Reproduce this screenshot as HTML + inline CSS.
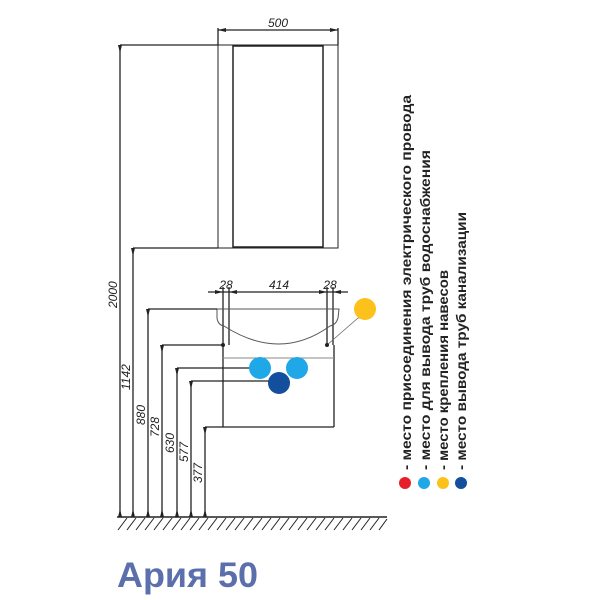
<!DOCTYPE html>
<html><head><meta charset="utf-8"><style>body{margin:0;background:#fff}</style></head><body>
<svg width="600" height="600" xmlns="http://www.w3.org/2000/svg" style="display:block">
<g stroke="#222" stroke-width="1.3" fill="none">
<rect x="218" y="45" width="120" height="203" stroke-width="1"/>
<rect x="233" y="46" width="90" height="201" stroke-width="1.5"/>
<line x1="218" y1="30" x2="338" y2="30"/>
<line x1="218" y1="28" x2="218" y2="45"/><line x1="338" y1="28" x2="338" y2="45"/>
<line x1="120" y1="45" x2="218" y2="45"/>
<line x1="120" y1="45" x2="120" y2="517"/>
<line x1="133" y1="248" x2="218" y2="248"/>
<line x1="133" y1="248" x2="133" y2="517"/>
<line x1="208" y1="292" x2="348" y2="292"/>
<line x1="223" y1="287" x2="223" y2="345"/><line x1="229" y1="287" x2="229" y2="345"/>
<line x1="327" y1="287" x2="327" y2="345"/><line x1="333" y1="287" x2="333" y2="345"/>
<path d="M217,309 L339,309 L338,318 Q336,325 330,326 Q280,362 224,326 Q218,325 217,318 Z" stroke-width="1" stroke="#555"/>
<line x1="223" y1="345" x2="223" y2="427"/>
<line x1="334" y1="345" x2="334" y2="427"/>
<line x1="223" y1="358" x2="334" y2="358" stroke="#888" stroke-width="1"/>
<line x1="205" y1="427" x2="334" y2="427"/>
<line x1="148" y1="309" x2="217" y2="309"/><line x1="148" y1="309" x2="148" y2="517"/>
<line x1="162" y1="345" x2="223" y2="345"/><line x1="162" y1="345" x2="162" y2="517"/>
<line x1="177" y1="368" x2="250" y2="368"/><line x1="177" y1="368" x2="177" y2="517"/>
<line x1="191" y1="381" x2="270" y2="381"/><line x1="191" y1="381" x2="191" y2="517"/>
<line x1="205" y1="427" x2="205" y2="517"/>
<line x1="327" y1="345" x2="358" y2="318" stroke-width="0.8" stroke="#666"/>
<line x1="358" y1="318" x2="370" y2="318" stroke-width="0.8" stroke="#666"/>
<line x1="117" y1="517" x2="387" y2="517" stroke-width="1.6"/>
</g>
<g fill="#222">
<circle cx="223" cy="345" r="2"/><circle cx="327" cy="345" r="2"/>
<path d="M118,45 l2,8 l2,-8z"/><path d="M131,248 l2,8 l2,-8z"/>
<path d="M146,309 l2,8 l2,-8z"/><path d="M160,345 l2,8 l2,-8z"/>
<path d="M175,368 l2,8 l2,-8z"/><path d="M189,381 l2,8 l2,-8z"/>
<path d="M203,427 l2,8 l2,-8z"/>
<path d="M118,517 l2,-8 l2,8z"/><path d="M131,517 l2,-8 l2,8z"/><path d="M146,517 l2,-8 l2,8z"/>
<path d="M160,517 l2,-8 l2,8z"/><path d="M175,517 l2,-8 l2,8z"/><path d="M189,517 l2,-8 l2,8z"/><path d="M203,517 l2,-8 l2,8z"/>
<path d="M218,30 l8,-2 v4z"/><path d="M338,30 l-8,-2 v4z"/>
<path d="M223,292 l-8,-2 v4z"/><path d="M229,292 l8,-2 v4z"/>
<path d="M327,292 l-8,-2 v4z"/><path d="M333,292 l8,-2 v4z"/>
</g>
<g stroke="#222" stroke-width="1">
<path d="M118,530 l9,-12 M127,530 l9,-12 M136,530 l9,-12 M145,530 l9,-12 M154,530 l9,-12 M163,530 l9,-12 M172,530 l9,-12 M181,530 l9,-12 M190,530 l9,-12 M199,530 l9,-12 M208,530 l9,-12 M217,530 l9,-12 M226,530 l9,-12 M235,530 l9,-12 M244,530 l9,-12 M253,530 l9,-12 M262,530 l9,-12 M271,530 l9,-12 M280,530 l9,-12 M289,530 l9,-12 M298,530 l9,-12 M307,530 l9,-12 M316,530 l9,-12 M325,530 l9,-12 M334,530 l9,-12 M343,530 l9,-12 M352,530 l9,-12 M361,530 l9,-12 M370,530 l9,-12 M379,530 l8,-11"/>
</g>
<circle cx="260" cy="368" r="11" fill="#1ea8e8"/>
<circle cx="297" cy="368" r="11" fill="#1ea8e8"/>
<circle cx="279" cy="383" r="11" fill="#134f9d"/>
<circle cx="365" cy="309" r="11" fill="#fcc21b"/>
<g font-family="Liberation Sans, sans-serif" font-style="italic" font-size="12" fill="#222">
<text x="278" y="27" text-anchor="middle">500</text>
<text x="226" y="289" text-anchor="middle">28</text>
<text x="279" y="289" text-anchor="middle">414</text>
<text x="330" y="289" text-anchor="middle">28</text>
<text transform="translate(117,308) rotate(-90)">2000</text>
<text transform="translate(130,390) rotate(-90)">1142</text>
<text transform="translate(145,425) rotate(-90)">880</text>
<text transform="translate(159,437) rotate(-90)">728</text>
<text transform="translate(174,453) rotate(-90)">630</text>
<text transform="translate(188,462) rotate(-90)">577</text>
<text transform="translate(202,483) rotate(-90)">377</text>
</g>
<g font-family="Liberation Sans, sans-serif" font-weight="bold" font-size="14" fill="#222">
<text transform="translate(411,470) rotate(-90)" textLength="375" lengthAdjust="spacingAndGlyphs">- место присоединения электрического провода</text>
<text transform="translate(430,470) rotate(-90)" textLength="320" lengthAdjust="spacingAndGlyphs">- место для вывода труб водоснабжения</text>
<text transform="translate(448,470) rotate(-90)" textLength="200" lengthAdjust="spacingAndGlyphs">- место крепления навесов</text>
<text transform="translate(466,470) rotate(-90)" textLength="258" lengthAdjust="spacingAndGlyphs">- место вывода труб канализации</text>
</g>
<circle cx="405" cy="483" r="6" fill="#e5202a"/>
<circle cx="424" cy="483" r="6" fill="#1ea8e8"/>
<circle cx="443" cy="483" r="6" fill="#fcc21b"/>
<circle cx="461" cy="483" r="6" fill="#134f9d"/>
<text x="117" y="587" font-family="Liberation Sans, sans-serif" font-weight="bold" font-size="35" fill="#5a6fab" textLength="141" lengthAdjust="spacingAndGlyphs">Ария 50</text>
</svg>
</body></html>
